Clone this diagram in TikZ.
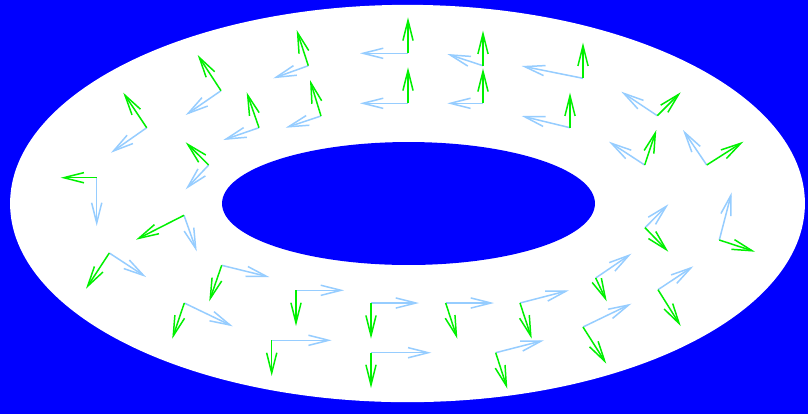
\documentclass[tikz,border=0pt]{standalone}
\usetikzlibrary{arrows.meta}
\definecolor{bgblue}{RGB}{0,0,255}
\definecolor{framegreen}{RGB}{0,240,0}
\definecolor{framesky}{RGB}{150,205,255}
\tikzset{
  vec/.style={line width=0.85pt, -{Straight Barb[length=11.5pt,width=5.8pt]}},
  e1/.style={vec, framegreen},
  e2/.style={vec, framesky}
}
\begin{document}
\begin{tikzpicture}[x=0.02cm, y=-0.02cm]
  \fill[bgblue] (0,0) rectangle (808,414);
  \useasboundingbox (0,0) rectangle (808,414);
  \coordinate (C)  at (407.5,203.5);
  \coordinate (Ci) at (408.5,203.5);
  \fill[white]  (C)  ellipse [x radius=7.95cm, y radius=3.974cm];
  \fill[bgblue] (Ci) ellipse [x radius=3.73cm, y radius=1.23cm];
  % frame at each point: e1 (green), e2 (blue)
  \foreach \n/\ox/\oy/\gx/\gy/\bx/\by in {
      1/96.7/177.7/60.7/177.7/96.7/226,
      2/146.7/127.7/123.3/92.7/111/152.7,
      3/221/90.7/197.7/55/185.7/115,
      4/308.3/65.7/296.7/30/273.3/78.3,
      5/208.7/165/185.7/142.3/185.7/189.3,
      6/259/127.7/246.7/92.3/223.3/140,
      7/321/116/310/80/285.7/127.7,
      8/408/53.3/408/17.3/360/53.3,
      9/408/103.3/408/67.3/360/103.3,
      10/483/65.7/483/30.7/447.3/54,
      11/483/103.3/483/68.3/447.3/103.3,
      12/583/78.3/583/42.7/521.7/66,
      13/570/127.7/570/92.7/521.7/116,
      14/657.3/115.7/680.7/92.3/621.3/91.7,
      15/644.7/165/656.3/130/609/141.7,
      16/706.7/165/743.3/141.7/683/130,
      17/184/215.3/136/239.7/196.7/251.3,
      18/109.3/253/86/288.7/146/277,
      19/221.7/265.3/209.3/301.3/269.3/277,
      20/184.3/303/172.3/338.7/232.7/326.3,
      21/296/290.3/296/326/344/290.3,
      22/271.7/340.3/271.7/376/331.7/340.3,
      23/371/303/371/338.7/419/303,
      24/371/352.7/371/388/431.3/352.7,
      25/445.7/303/457.3/338.7/494/303,
      26/520/303/531.7/338.7/569/290.3,
      27/495.7/352.7/507.3/388.7/544/340.3,
      28/595.7/278/606.7/301.3/631.3/253.7,
      29/583/327/606.3/363.7/631.3/303.7,
      30/658/289.7/680.7/326/693.3/266.3,
      31/645/227.7/668.3/251.7/668.3/204.3,
      32/719.3/240/755/251.7/731.7/192.3} {
    \coordinate (p\n) at (\ox,\oy);
    \coordinate (g\n) at (\gx,\gy);
    \coordinate (b\n) at (\bx,\by);
    \draw[e2] (p\n) -- (b\n);
    \draw[e1] (p\n) -- (g\n);
  }
\end{tikzpicture}
\end{document}
